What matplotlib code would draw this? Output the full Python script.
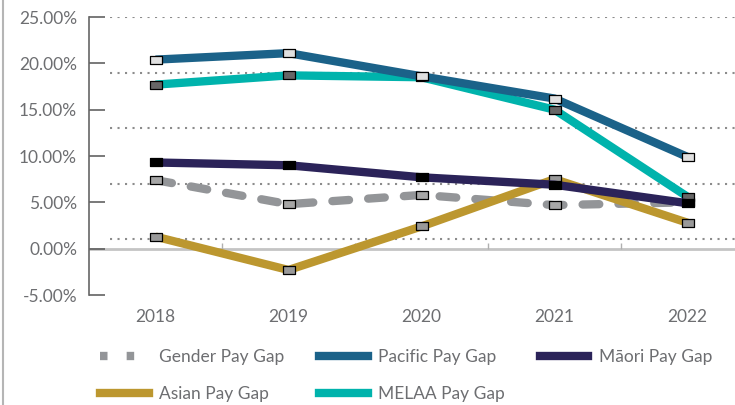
import matplotlib.pyplot as plt
from matplotlib.lines import Line2D
from matplotlib.path import Path

plt.rcParams['font.family'] = ['Lato', 'DejaVu Sans']

years = ['2018', '2019', '2020', '2021', '2022']
gender = [7.4, 4.8, 5.8, 4.7, 5.0]
pacific = [20.4, 21.1, 18.6, 16.2, 9.9]
maori = [9.3, 9.0, 7.7, 6.9, 4.9]
asian = [1.3, -2.3, 2.4, 7.5, 2.8]
melaa = [17.7, 18.7, 18.5, 15.0, 5.6]
grid_vals = [1, 7, 13, 19, 25]
yticks = [-5, 0, 5, 10, 15, 20, 25]

txt = '#6d6e71'
rect = Path([(-1, -0.72), (1, -0.72), (1, 0.72), (-1, 0.72), (-1, -0.72)],
            [Path.MOVETO, Path.LINETO, Path.LINETO, Path.LINETO, Path.CLOSEPOLY])

fig = plt.figure(figsize=(7.35, 4.05), dpi=100)
ax = fig.add_axes([89/735, 1 - 295/405, 665/735, 278/405])
x = range(len(years))

ax.hlines(grid_vals, -0.34, 4.5, colors='#8c8c8c', linestyles=(0, (1, 2.6)), lw=1.5, zorder=1)
ax.axhline(0, color='#c4c4c4', lw=2, zorder=1)
ax.vlines([0.5, 1.5, 2.5, 3.5], 0, 0.65, colors='#b0b0b0', lw=1, zorder=1)

series = [
    (gender, '#939598', '#a6a6a6', 'Gender Pay Gap'),
    (asian, '#bc972f', '#999999', 'Asian Pay Gap'),
    (melaa, '#00b3ac', '#666666', 'MELAA Pay Gap'),
    (pacific, '#1b6289', '#e0e0e0', 'Pacific Pay Gap'),
    (maori, '#2b2359', '#000000', 'Māori Pay Gap'),
]
for i, (vals, col, face, name) in enumerate(series):
    ls = (0, (2, 2.3)) if name.startswith('Gender') else '-'
    ax.plot(x, vals, color=col, lw=6, ls=ls, dash_capstyle='round',
            solid_capstyle='butt', marker=rect, ms=8, mfc=face, mec='black',
            mew=0.9, zorder=3 + i)

ax.set_xlim(-0.5, 4.5)
ax.set_ylim(-5, 25)
ax.set_xticks(list(x))
ax.set_xticklabels(years)
ax.set_yticks(yticks)
ax.set_yticklabels([f'{v:.2f}%' for v in yticks])
ax.tick_params(axis='x', length=0, pad=10, labelsize=12.5, labelcolor=txt)
ax.tick_params(axis='y', direction='in', length=11.5, width=1.1, color='#555555',
               pad=8.6, labelsize=12.5, labelcolor=txt)
for v, t in zip(yticks, ax.yaxis.get_major_ticks()):
    if v in (0, 20):
        t.tick1line.set_color('#c4c4c4')
for s in ['top', 'right', 'bottom']:
    ax.spines[s].set_visible(False)
ax.spines['left'].set_color('#666666')
ax.spines['left'].set_linewidth(1.2)

# legend proxies, filled column by column
handles = [
    Line2D([], [], color='#939598', lw=6, ls=(0, (0.9, 2.3))),
    Line2D([], [], color='#bc972f', lw=6),
    Line2D([], [], color='#1b6289', lw=6),
    Line2D([], [], color='#00b3ac', lw=6),
    Line2D([], [], color='#2b2359', lw=6),
]
labels = ['Gender Pay Gap', 'Asian Pay Gap', 'Pacific Pay Gap', 'MELAA Pay Gap', 'Māori Pay Gap']
fig.legend(handles, labels, ncol=3, loc='upper left', bbox_to_anchor=(100/735, 1 - 349/405),
           frameon=False, fontsize=12.5, labelcolor=txt, handlelength=2.8, handletextpad=0.6,
           columnspacing=2.0, labelspacing=1.2, borderpad=0, borderaxespad=0)

fig.add_artist(Line2D([3/735, 3/735], [0, 1], color='#b5b5b5', lw=1.5))

fig.savefig('out.png', dpi=100)
